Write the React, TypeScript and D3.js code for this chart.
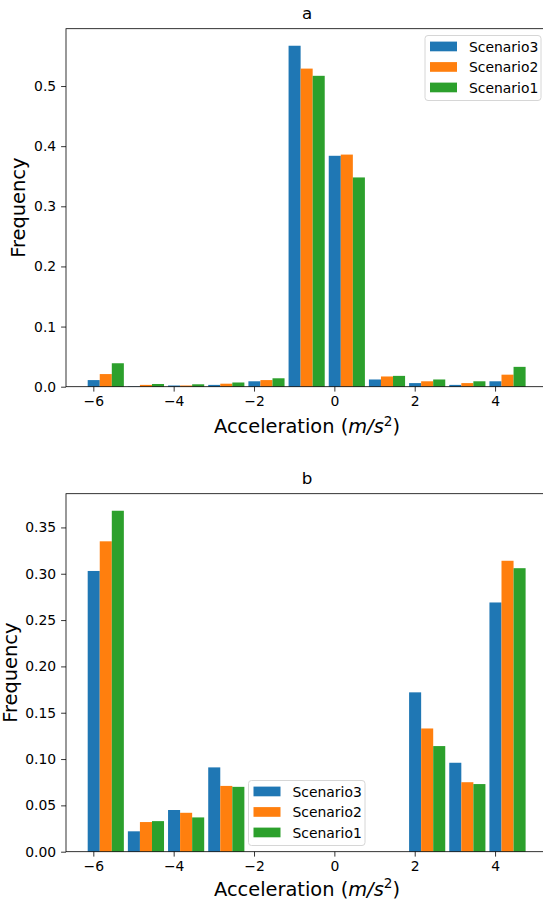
import * as d3 from 'd3';
import React, { useEffect, useRef } from 'react';

// Histogram bins (centres of the 1.0-wide bins)
const binCenters = [-5.69, -4.69, -3.69, -2.69, -1.69, -0.69, 0.31, 1.31, 2.31, 3.31, 4.31];

const seriesNames = ['Scenario3', 'Scenario2', 'Scenario1'];
const seriesColors = ['#1f77b4', '#ff7f0e', '#2ca02c'];

// panel a
const aScenario3 = [0.011, 0.0005, 0.002, 0.003, 0.009, 0.567, 0.384, 0.012, 0.006, 0.003, 0.009];
const aScenario2 = [0.021, 0.003, 0.002, 0.005, 0.011, 0.529, 0.386, 0.017, 0.009, 0.006, 0.020];
const aScenario1 = [0.039, 0.0045, 0.004, 0.007, 0.014, 0.517, 0.348, 0.018, 0.012, 0.009, 0.033];

// panel b
const bScenario3 = [0.303, 0.022, 0.045, 0.091, 0, 0, 0, 0, 0.172, 0.096, 0.269];
const bScenario2 = [0.335, 0.032, 0.042, 0.071, 0, 0, 0, 0, 0.133, 0.075, 0.314];
const bScenario1 = [0.368, 0.033, 0.037, 0.070, 0, 0, 0, 0, 0.114, 0.073, 0.306];

const xTicks = [-6, -4, -2, 0, 2, 4];
const aYTicks = [0, 0.1, 0.2, 0.3, 0.4, 0.5];
const bYTicks = [0, 0.05, 0.1, 0.15, 0.2, 0.25, 0.3, 0.35];

const FONT = 'DejaVu Sans, sans-serif';

function drawPanel(svg, opts) {
    const { top, bottom, title, series, yTicks, yFormat, legend, yLabelX, xLabelGap } = opts;
    const left = 66;

    // x scale shared layout
    const x = d3.scaleLinear().domain([-6.68, 5.33]).range([left, 548.5]);
    const yMax = d3.max(series, (s) => d3.max(s)) * 1.05;
    const y = d3.scaleLinear().domain([0, yMax]).range([bottom, top]);

    const g = svg.append('g');

    // bars
    const barW = 0.3;
    series.forEach((vals, si) => {
        g.append('g')
            .selectAll('rect')
            .data(vals.map((v, i) => ({ v, c: binCenters[i] })))
            .enter()
            .append('rect')
            .attr('x', (d) => x(d.c - 0.45 + si * barW))
            .attr('width', x(barW) - x(0))
            .attr('y', (d) => y(d.v))
            .attr('height', (d) => y(0) - y(d.v))
            .attr('fill', seriesColors[si]);
    });

    // x axis
    const xAxis = g.append('g')
        .attr('transform', `translate(0,${bottom})`)
        .call(d3.axisBottom(x).tickValues(xTicks).tickSize(4.9).tickPadding(4.9)
            .tickFormat((d) => (d < 0 ? '\u2212' + Math.abs(d) : String(d))));
    xAxis.select('.domain').remove();

    // y axis
    const yAxis = g.append('g')
        .attr('transform', `translate(${left},0)`)
        .call(d3.axisLeft(y).tickValues(yTicks).tickSize(4.9).tickPadding(4.9).tickFormat(d3.format(yFormat)));
    yAxis.select('.domain').remove();

    [xAxis, yAxis].forEach((ax) => {
        ax.selectAll('text').attr('font-family', FONT).attr('font-size', 13.9).attr('fill', '#000');
        ax.selectAll('line').attr('stroke', '#000').attr('stroke-width', 0.8);
    });

    // frame
    g.append('rect')
        .attr('x', left)
        .attr('y', top)
        .attr('width', 600)
        .attr('height', bottom - top)
        .attr('fill', 'none')
        .attr('stroke', '#000')
        .attr('stroke-width', 0.8);

    // title
    g.append('text')
        .attr('x', 307)
        .attr('y', top - 10)
        .attr('text-anchor', 'middle')
        .attr('font-family', FONT)
        .attr('font-size', 16.7)
        .text(title);

    // y label
    g.append('text')
        .attr('transform', `translate(${yLabelX},${(top + bottom) / 2}) rotate(-90)`)
        .attr('text-anchor', 'middle')
        .attr('font-family', FONT)
        .attr('font-size', 19.4)
        .text('Frequency');

    // x label
    const xl = g.append('text')
        .attr('x', 307)
        .attr('y', bottom + xLabelGap)
        .attr('text-anchor', 'middle')
        .attr('font-family', FONT)
        .attr('font-size', 19.4);
    xl.append('tspan').text('Acceleration (');
    xl.append('tspan').attr('font-style', 'italic').text('m/s');
    xl.append('tspan').attr('font-size', 13.6).attr('dy', -7.5).text('2');
    xl.append('tspan').attr('dy', 7.5).text(')');

    // legend
    const lg = g.append('g').attr('transform', `translate(${legend.x},${legend.y})`);
    lg.append('rect')
        .attr('width', legend.w)
        .attr('height', 65)
        .attr('rx', 3)
        .attr('fill', 'rgba(255,255,255,0.8)')
        .attr('stroke', '#d6d6d6')
        .attr('stroke-width', 1);
    seriesNames.forEach((name, i) => {
        const row = lg.append('g').attr('transform', `translate(5,${11 + i * 20.5})`);
        row.append('rect')
            .attr('x', 0)
            .attr('y', -4.9)
            .attr('width', 27)
            .attr('height', 9.7)
            .attr('fill', seriesColors[i]);
        row.append('text')
            .attr('x', 39)
            .attr('y', 5)
            .attr('font-family', FONT)
            .attr('font-size', 13.9)
            .attr('fill', '#000')
            .text(name);
    });
}

function App() {
    const ref = useRef(null);

    useEffect(() => {
        const svg = d3.select(ref.current);
        svg.selectAll('*').remove();

        svg.append('rect').attr('width', 543).attr('height', 901).attr('fill', 'white');

        drawPanel(svg, {
            top: 28.7,
            bottom: 386.7,
            title: 'a',
            series: [aScenario3, aScenario2, aScenario1],
            yTicks: aYTicks,
            yFormat: '.1f',
            legend: { x: 425, y: 35.5, w: 116 },
            yLabelX: 25,
            xLabelGap: 46.5,
        });

        drawPanel(svg, {
            top: 493.7,
            bottom: 851.7,
            title: 'b',
            series: [bScenario3, bScenario2, bScenario1],
            yTicks: bYTicks,
            yFormat: '.2f',
            legend: { x: 248.5, y: 780.5, w: 116.5 },
            yLabelX: 17,
            xLabelGap: 44,
        });
    }, []);

    return (
        <svg
            ref={ref}
            width={543}
            height={901}
            style={{ position: 'absolute', left: 0, top: 0 }}
        />
    );
}

export default App;
